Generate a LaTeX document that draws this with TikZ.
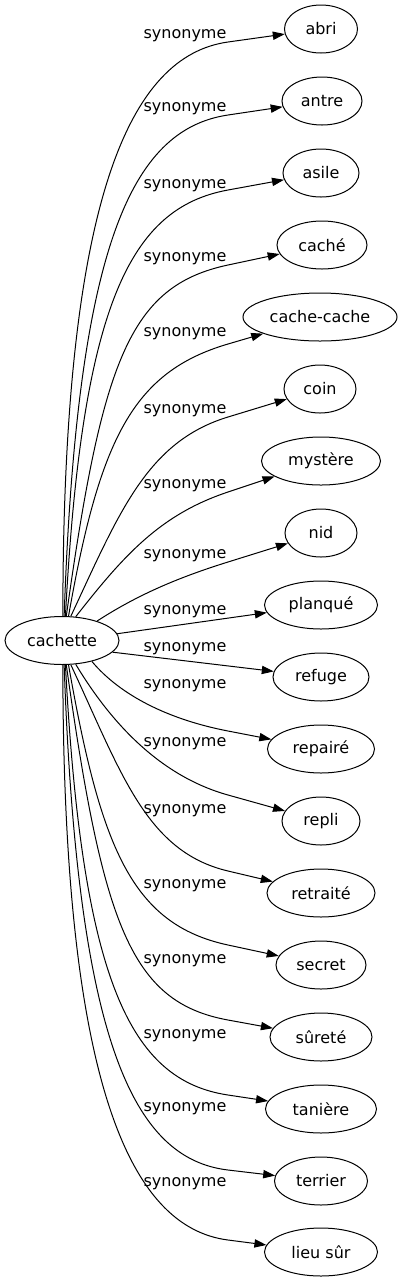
\documentclass[tikz,border=0pt]{standalone}
\usepackage{fontspec}
\setmainfont{DejaVu Sans}
\usetikzlibrary{calc,arrows.meta,shapes.geometric}
\newcommand\synedge[6]{\draw[edge] (cach.#1) .. controls ($(cach.#1)+(#2:#3)$) and ($(#4)!#5!(#6.center)$) .. (#4) -- (#6);}
\begin{document}
\begin{tikzpicture}[x=0.75pt,y=-0.75pt,
  word/.style={draw, ellipse, line width=0.75pt, inner sep=0pt, minimum height=36pt, font=\fontsize{12}{14}\selectfont},
  lbl/.style={anchor=base, inner sep=0pt, font=\fontsize{12}{14}\selectfont},
  edge/.style={line width=0.75pt, -{Triangle[length=9pt,width=6.2pt]}},
]
\useasboundingbox (0,0) rectangle (404,1283);
\node[word, minimum width=85.5pt] (cach) at (62,640.5) {cachette};
\node[word, minimum width=54.75pt] (abri) at (321,29) {abri};
\node[word, minimum width=60pt] (antre) at (322,101) {antre};
\node[word, minimum width=57pt] (asile) at (321,173) {asile};
\node[word, minimum width=67.5pt] (cache) at (322,245) {caché};
\node[word, minimum width=115.5pt] (cachecache) at (320,317) {cache-cache};
\node[word, minimum width=54pt] (coin) at (320,389) {coin};
\node[word, minimum width=89.25pt] (mystere) at (321,461) {mystère};
\node[word, minimum width=54pt] (nid) at (321,533) {nid};
\node[word, minimum width=84.75pt] (planque) at (321,605) {planqué};
\node[word, minimum width=72pt] (refuge) at (321,677) {refuge};
\node[word, minimum width=80.25pt] (repaire) at (321,749) {repairé};
\node[word, minimum width=58.5pt] (repli) at (321,821) {repli};
\node[word, minimum width=81pt] (retraite) at (321,893) {retraité};
\node[word, minimum width=67.5pt] (secret) at (321,965) {secret};
\node[word, minimum width=76.5pt] (surete) at (321,1037) {sûreté};
\node[word, minimum width=83.25pt] (taniere) at (321,1109) {tanière};
\node[word, minimum width=69.75pt] (terrier) at (321,1181) {terrier};
\node[word, minimum width=84.75pt] (lieusur) at (321,1252) {lieu sûr};
\node[lbl] (s1) at (185,38.5) {synonyme};
\node[lbl] (s2) at (185,111.5) {synonyme};
\node[lbl] (s3) at (185,188.5) {synonyme};
\node[lbl] (s4) at (185,261.5) {synonyme};
\node[lbl] (s5) at (185,336.5) {synonyme};
\node[lbl] (s6) at (185,413.5) {synonyme};
\node[lbl] (s7) at (185,488.5) {synonyme};
\node[lbl] (s8) at (185,558.5) {synonyme};
\node[lbl] (s9) at (185,614.5) {synonyme};
\node[lbl] (s10) at (185,651.5) {synonyme};
\node[lbl] (s11) at (185,688.5) {synonyme};
\node[lbl] (s12) at (185,746.5) {synonyme};
\node[lbl] (s13) at (185,813.5) {synonyme};
\node[lbl] (s14) at (185,888.5) {synonyme};
\node[lbl] (s15) at (185,963.5) {synonyme};
\node[lbl] (s16) at (185,1038.5) {synonyme};
\node[lbl] (s17) at (185,1111.5) {synonyme};
\node[lbl] (s18) at (185,1186.5) {synonyme};
\coordinate (v1) at (228,42);
\coordinate (v2) at (228,115);
\coordinate (v3) at (228,190);
\coordinate (v4) at (228,265);
\coordinate (v5) at (228,344);
\coordinate (v6) at (228,417);
\coordinate (v7) at (228,492);
\coordinate (v8) at (228,562);
\coordinate (v9) at (228,731);
\coordinate (v10) at (228,795);
\coordinate (v11) at (228,871);
\coordinate (v12) at (228,945);
\coordinate (v13) at (228,1020);
\coordinate (v14) at (228,1095);
\coordinate (v15) at (228,1170);
\coordinate (v16) at (228,1240);
\synedge{88}{-90}{420}{v1}{-1.05}{abri}
\synedge{85}{-88}{368}{v2}{-1.04}{antre}
\synedge{82.6}{-87}{313}{v3}{-1.05}{asile}
\synedge{80}{-82}{258}{v4}{-1.05}{cache}
\synedge{75}{-80}{179}{v5}{-1.04}{cachecache}
\synedge{70.6}{-65}{115}{v6}{-0.88}{coin}
\synedge{60}{-52}{80}{v7}{-0.72}{mystere}
\synedge{29.6}{-33}{50}{v8}{-0.51}{nid}
\draw[edge] (cach.7.3) -- (planque);
\draw[edge] (cach.-13.8) -- (refuge);
\synedge{-35.5}{50}{45}{v9}{-0.63}{repaire}
\synedge{-60}{59}{70}{v10}{-0.72}{repli}
\synedge{-70.6}{65}{120}{v11}{-0.88}{retraite}
\synedge{-75}{80}{185}{v12}{-1.04}{secret}
\synedge{-80}{82}{262}{v13}{-1.05}{surete}
\synedge{-82.6}{87}{317}{v14}{-1.05}{taniere}
\synedge{-85}{88}{372}{v15}{-1.04}{terrier}
\synedge{-88}{90}{420}{v16}{-1.05}{lieusur}
\end{tikzpicture}
\end{document}
